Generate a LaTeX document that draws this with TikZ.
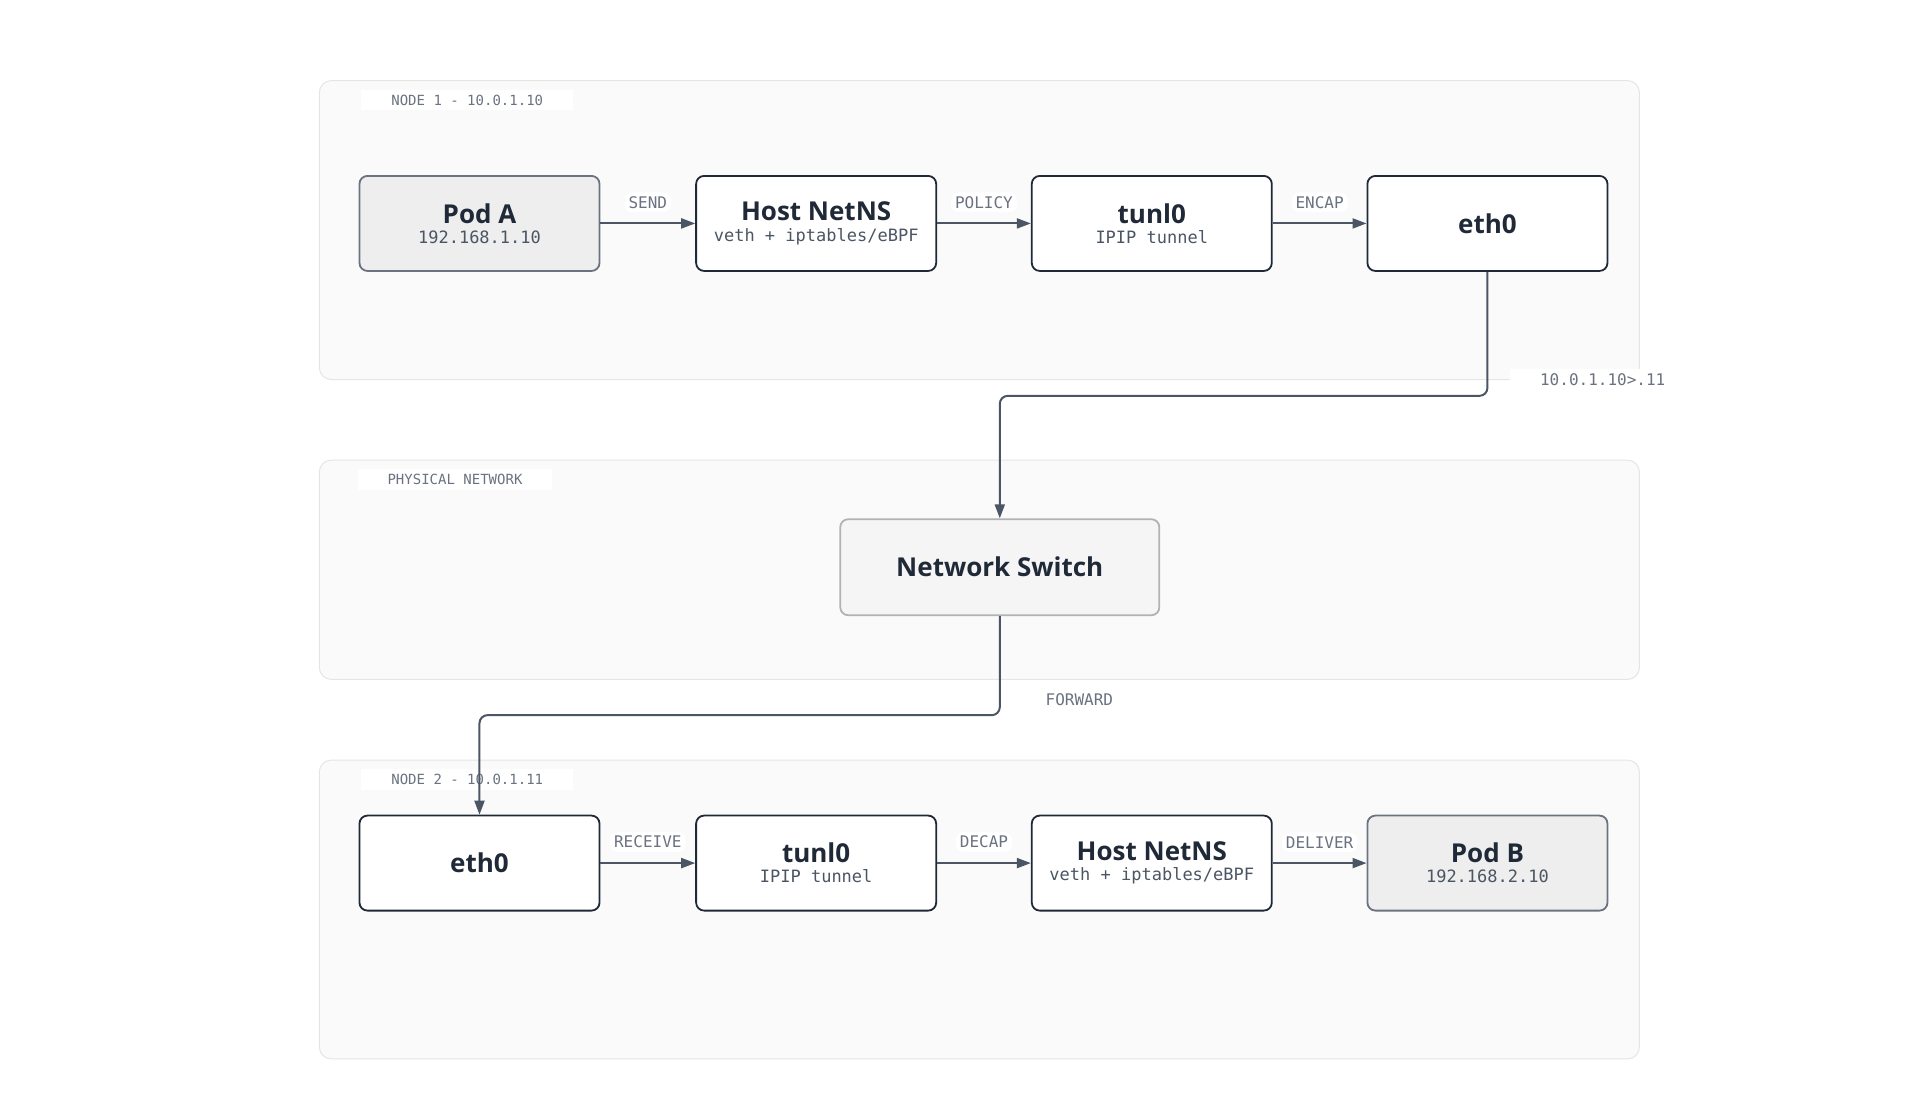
\documentclass[tikz,border=0pt]{standalone}
\usepackage{fontspec}
\setmainfont{Open Sans}
\newfontfamily\monofont{DejaVu Sans Mono}
\usetikzlibrary{positioning,arrows.meta}
\definecolor{ink}{HTML}{1F2937}
\definecolor{edge}{HTML}{4B5563}
\definecolor{muted}{HTML}{6B7280}
\definecolor{panel}{HTML}{FAFAFA}
\definecolor{panelline}{HTML}{E5E5E5}
\definecolor{podfill}{HTML}{EEEEEE}
\definecolor{podline}{HTML}{6B7280}
\newcommand{\boxtitle}[1]{{\bfseries\fontsize{26}{30}\selectfont #1}}
\newcommand{\boxsub}[1]{{\monofont\fontsize{17}{24}\selectfont\color{edge} #1}}
\tikzset{
  group/.style={draw=panelline, fill=panel, rounded corners=12pt, line width=1pt},
  grouplabel/.style={fill=white, text=muted, font=\monofont\fontsize{14}{16}\selectfont, inner xsep=30pt, inner ysep=5pt},
  box/.style={draw=ink, fill=white, rounded corners=8pt, line width=1.8pt, minimum width=240pt, minimum height=95pt, align=center, text=ink},
  pod/.style={box, draw=podline, fill=podfill},
  switch/.style={box, draw=gray!60, fill=white!96!black, minimum width=319pt, minimum height=96pt},
  elabel/.style={fill=white, text=muted, font=\monofont\fontsize{16}{18}\selectfont, inner sep=4pt},
  flow/.style={-{Triangle[length=14pt,width=10pt]}, draw=edge, line width=2pt, rounded corners=8pt}
}
\begin{document}
\begin{tikzpicture}[x=1.02pt, y=-1.02pt]
        \useasboundingbox (0,0) rectangle (1882,1078);
        % groups
        \draw[group] (313,79) rectangle (1607,372);
        \draw[group] (313,451) rectangle (1607,666);
        \draw[group] (313,745) rectangle (1607,1038);
        \node(g1) [grouplabel] at (458,98) {NODE 1 - 10.0.1.10};
        \node(g2) [grouplabel] at (446,470) {PHYSICAL NETWORK};
        \node(g3) [grouplabel] at (458,764) {NODE 2 - 10.0.1.11};

        % nodes
        \node(poda) [pod] at (470,219) {\boxtitle{Pod A}\\[6pt]\boxsub{192.168.1.10}};
        \node(host1) [box] at (800,219) {\boxtitle{Host NetNS}\\[6pt]\boxsub{veth + iptables/eBPF}};
        \node(tun1) [box] at (1129,219) {\boxtitle{tunl0}\\[6pt]\boxsub{IPIP tunnel}};
        \node(eth1) [box] at (1458,219) {\boxtitle{eth0}};
        \node(sw) [switch] at (980,556) {\boxtitle{Network Switch}};
        \node(eth2) [box] at (470,846) {\boxtitle{eth0}};
        \node(tun2) [box] at (800,846) {\boxtitle{tunl0}\\[6pt]\boxsub{IPIP tunnel}};
        \node(host2) [box] at (1129,846) {\boxtitle{Host NetNS}\\[6pt]\boxsub{veth + iptables/eBPF}};
        \node(podb) [pod] at (1458,846) {\boxtitle{Pod B}\\[6pt]\boxsub{192.168.2.10}};

        %edges
        \draw[flow] (poda) -- node[elabel, above=10pt] {SEND} (host1);
        \draw[flow] (host1) -- node[elabel, above=10pt] {POLICY} (tun1);
        \draw[flow] (tun1) -- node[elabel, above=10pt] {ENCAP} (eth1);
        \draw[flow] (eth1.south) |- (980,388) -- (sw.north);
        \draw[flow] (sw.south) |- (470,701) -- (eth2.north);
        \draw[flow] (eth2) -- node[elabel, above=10pt] {RECEIVE} (tun2);
        \draw[flow] (tun2) -- node[elabel, above=10pt] {DECAP} (host2);
        \draw[flow] (host2) -- node[elabel, above=10pt] {DELIVER} (podb);
        \node(l1) [elabel, inner xsep=30pt] at (1571,372) {10.0.1.10>.11};
        \node(l2) [elabel] at (1058,686) {FORWARD};

    \end{tikzpicture}
\end{document}
